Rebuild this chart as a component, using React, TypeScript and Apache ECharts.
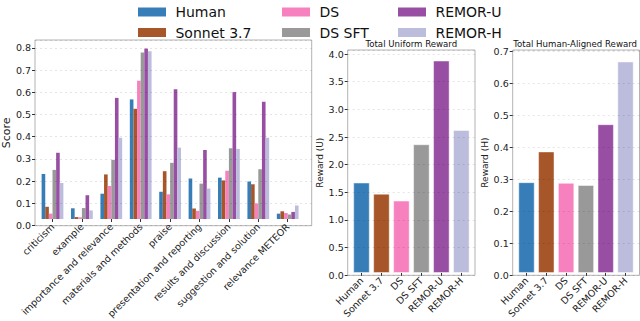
import React, { useEffect, useRef } from "react";
import * as echarts from "echarts";

const categories = [
  "criticism",
  "example",
  "importance and relevance",
  "materials and methods",
  "praise",
  "presentation and reporting",
  "results and discussion",
  "suggestion and solution",
  "relevance METEOR",
];
const models = ["Human", "Sonnet 3.7", "DS", "DS SFT", "REMOR-U", "REMOR-H"];
const colors = ["#377eb8", "#a65628", "#f781bf", "#999999", "#984ea3", "#bcbddc"];

const humanScores = [0.21, 0.05, 0.118, 0.558, 0.127, 0.189, 0.193, 0.175, 0.025];
const sonnetScores = [0.057, 0.009, 0.208, 0.514, 0.223, 0.049, 0.18, 0.162, 0.036];
const dsScores = [0.025, 0.008, 0.154, 0.645, 0.115, 0.038, 0.225, 0.072, 0.028];
const dsSftScores = [0.229, 0.051, 0.276, 0.777, 0.262, 0.165, 0.33, 0.232, 0.021];
const remorUScores = [0.309, 0.111, 0.565, 0.795, 0.605, 0.322, 0.592, 0.547, 0.033];
const remorHScores = [0.168, 0.04, 0.379, 0.782, 0.333, 0.142, 0.327, 0.379, 0.063];

const uniformReward = [1.65, 1.446, 1.32, 2.35, 3.88, 2.61];
const humanAlignedReward = [0.286, 0.383, 0.284, 0.277, 0.469, 0.667];

const FONT = "DejaVu Sans";

export default function App() {
  const ref = useRef<HTMLDivElement>(null);
  useEffect(() => {
    if (!ref.current) return;
    const chart = echarts.init(ref.current, null, { renderer: "svg" });
    const scoreSeries = [humanScores, sonnetScores, dsScores, dsSftScores, remorUScores, remorHScores];

    const frameGrid = (left: number, right: number, top: number, bottom: number) => ({
      left, right, top, bottom, show: true, borderColor: "#b3b3b3", borderWidth: 1, backgroundColor: "transparent",
    });
    const plainGrid = (left: number, right: number, top: number, bottom: number) => ({
      left, right, top, bottom, show: false,
    });
    const hiddenX = (gridIndex: number) => ({ type: "value", gridIndex, show: false, min: 0, max: 1 });
    const catX = (gridIndex: number, data: string[]) => ({
      type: "category", gridIndex, data,
      axisLine: { show: false },
      axisTick: { show: true, alignWithLabel: true, length: 3, lineStyle: { color: "#333" } },
      axisLabel: { rotate: 45, fontSize: 9.5, color: "#222", interval: 0, margin: 6, fontFamily: FONT },
    });
    const visY = (gridIndex: number, max: number, interval: number, name: string, nameGap: number, nameSize: number) => ({
      type: "value", gridIndex, min: 0, max, interval, z: 3,
      name, nameLocation: "middle", nameGap, nameRotate: 90,
      nameTextStyle: { fontSize: nameSize, color: "#222", fontFamily: FONT },
      axisLine: { show: false },
      axisTick: { show: true, length: 3, lineStyle: { color: "#333" } },
      axisLabel: { fontSize: 9.5, color: "#222", fontFamily: FONT, margin: 4, showMaxLabel: false,
        formatter: (v: number) => v.toFixed(1) },
      splitLine: { show: true, lineStyle: { color: "rgba(0,0,0,0.13)", type: [2, 3], width: 0.8 } },
    });
    const hiddenY = (gridIndex: number, max: number) => ({ type: "value", gridIndex, show: false, min: 0, max });

    const legendBase = {
      orient: "vertical", top: 0, itemWidth: 28, itemHeight: 9, itemGap: 6.5, icon: "rect",
      selectedMode: false,
      textStyle: { fontSize: 14, color: "#111", fontFamily: FONT, lineHeight: 14 },
      formatter: (n: string) => " " + n,
    };

    const leftMax = 0.835;
    const midMax = 4.074;
    const rightMax = 0.7035;

    const option: any = {
      animation: false,
      backgroundColor: "#ffffff",
      textStyle: { fontFamily: FONT },
      legend: [
        { ...legendBase, left: 133, data: [models[0], models[1]] },
        { ...legendBase, left: 277, data: [models[2], models[3]] },
        { ...legendBase, left: 393, data: [models[4], models[5]] },
      ],
      grid: [
        frameGrid(29.5, 640 - 311.7, 40, 321 - 225.7),
        plainGrid(37.8, 640 - 302.4, 40, 321 - 225.7),
        frameGrid(347.7, 640 - 475, 50, 321 - 275.3),
        plainGrid(351.5, 640 - 471.3, 50, 321 - 275.3),
        frameGrid(512.7, 0.5, 50, 321 - 275.3),
        plainGrid(516.6, 640 - 635.4, 50, 321 - 275.3),
      ],
      xAxis: [
        hiddenX(0),
        catX(1, categories),
        hiddenX(2),
        catX(3, models),
        hiddenX(4),
        catX(5, models),
      ],
      yAxis: [
        visY(0, leftMax, 0.1, "Score", 17, 11),
        hiddenY(1, leftMax),
        visY(2, midMax, 0.5, "Reward (U)", 14.5, 9),
        hiddenY(3, midMax),
        visY(4, rightMax, 0.1, "Reward (H)", 14.5, 9),
        hiddenY(5, rightMax),
      ],
      graphic: [
        { type: "text", x: 411.3, y: 44, style: { text: "Total Uniform Reward", fontSize: 8.6, fontFamily: FONT, fill: "#111", textAlign: "center", textVerticalAlign: "middle" } },
        { type: "text", x: 513.3, y: 44, style: { text: "Total Human-Aligned Reward", fontSize: 8.6, fontFamily: FONT, fill: "#111", textAlign: "left", textVerticalAlign: "middle" } },
      ],
      series: [
        ...models.map((m, i) => ({
          name: m, type: "bar", xAxisIndex: 1, yAxisIndex: 1,
          data: scoreSeries[i], barGap: "0%", barCategoryGap: "26%",
          itemStyle: { color: colors[i] },
        })),
        {
          name: "Total Uniform Reward", type: "bar", xAxisIndex: 3, yAxisIndex: 3,
          barCategoryGap: "18%",
          data: uniformReward.map((v, i) => ({ value: v, itemStyle: { color: colors[i] } })),
          itemStyle: { borderColor: "rgba(255,255,255,0.6)", borderWidth: 0.8 },
        },
        {
          name: "Total Human-Aligned Reward", type: "bar", xAxisIndex: 5, yAxisIndex: 5,
          barCategoryGap: "18%",
          data: humanAlignedReward.map((v, i) => ({ value: v, itemStyle: { color: colors[i] } })),
          itemStyle: { borderColor: "rgba(255,255,255,0.6)", borderWidth: 0.8 },
        },
      ],
    };
    chart.setOption(option);
    return () => chart.dispose();
  }, []);
  return <div ref={ref} style={{ position: "fixed", left: 0, top: 0, width: 640, height: 321 }} />;
}
